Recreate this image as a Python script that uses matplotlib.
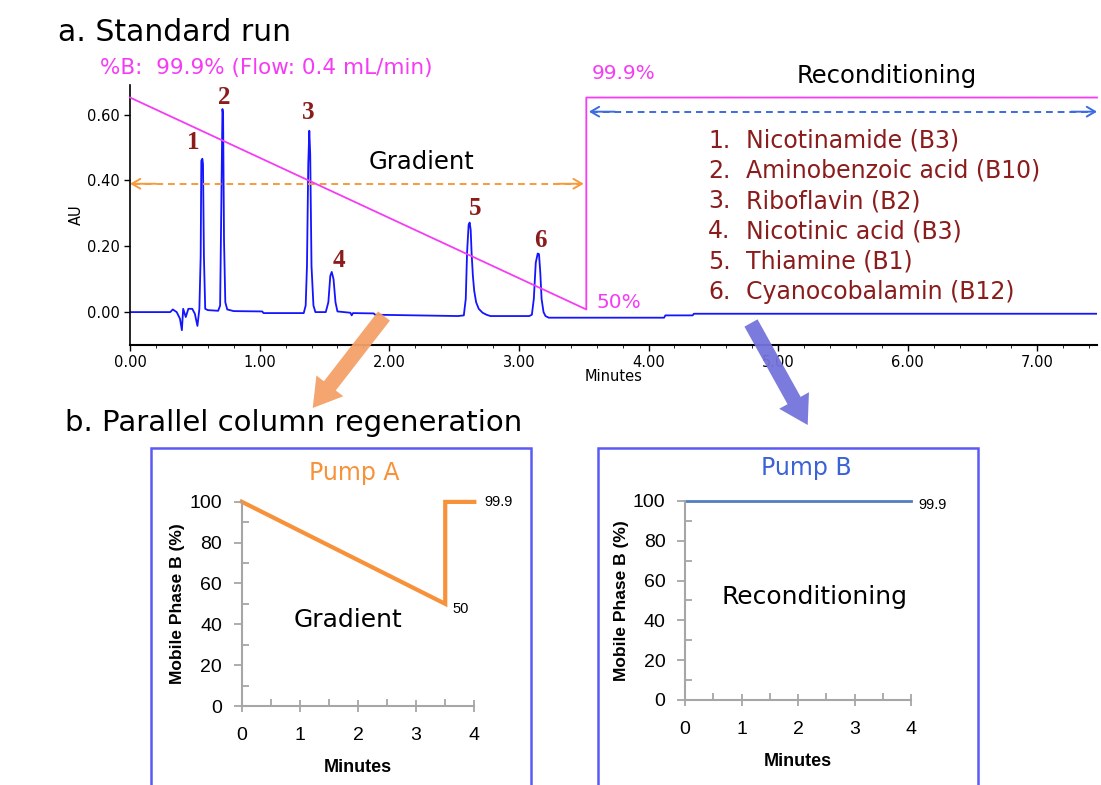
import matplotlib.pyplot as plt
import matplotlib.patches as mpatches
from matplotlib.ticker import MultipleLocator

# chromatogram trace (minutes, AU)
trace_t = [0.0, 0.31, 0.33, 0.36, 0.385, 0.40, 0.41, 0.43, 0.45, 0.48, 0.50, 0.52,
           0.535, 0.545, 0.55, 0.558, 0.563, 0.57, 0.58, 0.60, 0.68, 0.695, 0.705,
           0.713, 0.718, 0.725, 0.735, 0.75, 0.80, 1.02, 1.03, 1.34, 1.355, 1.365,
           1.375, 1.383, 1.39, 1.40, 1.415, 1.43, 1.51, 1.53, 1.545, 1.556, 1.57,
           1.585, 1.60, 1.70, 1.71, 1.72, 1.88, 1.89, 2.53, 2.575, 2.59, 2.60,
           2.612, 2.62, 2.628, 2.635, 2.645, 2.655, 2.67, 2.69, 2.72, 2.75, 2.78,
           3.08, 3.10, 3.115, 3.13, 3.145, 3.155, 3.165, 3.175, 3.19, 3.205, 3.23,
           4.12, 4.13, 4.34, 4.35, 7.46]
trace_au = [0.0, 0.0, 0.008, 0.0, -0.02, -0.055, 0.01, -0.015, 0.01, 0.01, -0.005, -0.042,
            0.01, 0.17, 0.46, 0.466, 0.45, 0.17, 0.01, 0.006, 0.004, 0.02, 0.35,
            0.617, 0.60, 0.22, 0.03, 0.008, 0.003, 0.002, -0.003, -0.003, 0.02, 0.14,
            0.45, 0.551, 0.48, 0.14, 0.02, 0.0, 0.0, 0.03, 0.11, 0.122, 0.10,
            0.03, 0.002, -0.002, -0.01, -0.003, -0.004, -0.008, -0.012, -0.01, 0.04, 0.18,
            0.265, 0.272, 0.25, 0.18, 0.11, 0.065, 0.03, 0.01, -0.002, -0.008, -0.012,
            -0.012, -0.008, 0.04, 0.15, 0.178, 0.176, 0.12, 0.04, 0.0, -0.012, -0.017,
            -0.017, -0.010, -0.010, -0.005, -0.005]

# %B program of the standard run
grad_t = [0.0, 3.52, 3.52, 7.46]
grad_b = [99.9, 50.0, 99.9, 99.9]

peak_nums = ['1', '2', '3', '4', '5', '6']
peak_t = [0.555, 0.713, 1.383, 1.556, 2.62, 3.15]
peak_h = [0.466, 0.617, 0.551, 0.122, 0.272, 0.178]
compounds = ['Nicotinamide (B3)', 'Aminobenzoic acid (B10)', 'Riboflavin (B2)',
             'Nicotinic acid (B3)', 'Thiamine (B1)', 'Cyanocobalamin (B12)']

# pump programs
pumpA_t = [0, 3.5, 3.5, 4]
pumpA_b = [100, 50, 99.9, 99.9]
pumpB_t = [0, 4]
pumpB_b = [99.9, 99.9]

MAG = '#f53cf5'
RED = '#8b1c1c'
NARROW = ['Liberation Sans Narrow', 'DejaVu Sans']

fig = plt.figure(figsize=(11.01, 7.85), dpi=100)

# ---------- a. standard run ----------
ax = fig.add_axes([0.1181, 0.5605, 0.8783, 0.3312])
ax.plot(trace_t, trace_au, color='#1414ff', lw=1.3)
ax.set_xlim(0, 7.46)
ax.set_ylim(-0.1, 0.69)
ax.set_xticks([0, 1, 2, 3, 4, 5, 6, 7])
ax.set_xticklabels(['%.2f' % v for v in range(8)])
ax.set_yticks([0, 0.2, 0.4, 0.6])
ax.set_yticklabels(['0.00', '0.20', '0.40', '0.60'])
ax.xaxis.set_minor_locator(MultipleLocator(0.2))
ax.tick_params(axis='both', labelsize=10.5, length=4, width=1)
ax.tick_params(axis='x', which='minor', length=2.5)
for lab in ax.get_xticklabels() + ax.get_yticklabels():
    lab.set_family(NARROW)
ax.set_xlabel('Minutes', fontsize=10.5, family=NARROW, labelpad=-1)
ax.set_ylabel('AU', fontsize=10.5, family=NARROW, labelpad=2)
for s in ['top', 'right']:
    ax.spines[s].set_visible(False)
ax.spines['left'].set_linewidth(1.2)
ax.spines['bottom'].set_linewidth(1.5)

# %B on hidden twin scale: 99.9 % at 0.652 AU, 50 % at 0.008 AU
ax2 = ax.twinx()
k = (99.9 - 50.0) / (0.652 - 0.008)
ax2.set_ylim(50 + (-0.1 - 0.008) * k, 50 + (0.69 - 0.008) * k)
ax2.plot(grad_t, grad_b, color=MAG, lw=1.3, clip_on=False)
ax2.axis('off')

# peak numbers
offs = [(-6.5, 11.5), (1.5, 8.6), (-0.7, 13), (5, 8.6), (3.6, 10), (1.4, 9.4)]
for n, t, h, o in zip(peak_nums, peak_t, peak_h, offs):
    ax.annotate(n, (t, h), xytext=o, textcoords='offset points', ha='center',
                va='center', fontsize=18, fontweight='bold', color=RED,
                family='Liberation Serif')

# dashed double arrows
ax.plot([0.02, 3.48], [0.39, 0.39], ls=(0, (3.5, 2.5)), color='#f79a3a', lw=1.4)
for x0, x1 in [(0.2, 0.0), (3.3, 3.5)]:
    ax.annotate('', xy=(x1, 0.39), xytext=(x0, 0.39),
                arrowprops=dict(arrowstyle='->,head_length=0.6,head_width=0.35',
                                color='#f79a3a', lw=1.4, shrinkA=0, shrinkB=0))
ax.plot([3.56, 7.42], [0.609, 0.609], ls=(0, (3.5, 2.5)), color='#3d6be0', lw=1.4,
        clip_on=False)
for x0, x1 in [(3.74, 3.54), (7.26, 7.46)]:
    ax.annotate('', xy=(x1, 0.609), xytext=(x0, 0.609),
                arrowprops=dict(arrowstyle='->,head_length=0.6,head_width=0.35',
                                color='#3d6be0', lw=1.4, shrinkA=0, shrinkB=0))

ax.text(2.25, 0.455, 'Gradient', fontsize=17.5, ha='center', va='center')
ax.text(5.84, 0.718, 'Reconditioning', fontsize=17.5, ha='center', va='center', clip_on=False)
ax.text(3.56, 0.724, '99.9%', fontsize=14.5, color=MAG, va='center', clip_on=False)
ax.text(-0.23, 0.742, '%B:  99.9% (Flow: 0.4 mL/min)', fontsize=15.5, color=MAG,
        va='center', clip_on=False)
ax.text(3.6, 0.03, '50%', fontsize=14.5, color=MAG, va='center')
for i, name in enumerate(compounds):
    yy = 0.521 - i * 0.092
    ax.text(4.46, yy, '%d.' % (i + 1), fontsize=17, color=RED, va='center')
    ax.text(4.75, yy, name, fontsize=17, color=RED, va='center')

fig.text(0.053, 0.958, 'a. Standard run', fontsize=21.5, va='center')
fig.text(0.059, 0.461, 'b. Parallel column regeneration', fontsize=21, va='center')

# ---------- b. pump panels ----------
for x0 in [0.1371, 0.5431]:
    fig.add_artist(mpatches.Rectangle((x0, -0.05), 0.3451, 0.4793, fill=False,
                                      edgecolor='#5a5af5', lw=1.8,
                                      transform=fig.transFigure))


def pump_axes(rect, t, b, color, lw, title, tcolor, tpos, label, lpos, ypad):
    a = fig.add_axes(rect)
    a.plot(t, b, color=color, lw=lw, clip_on=False, solid_joinstyle='miter')
    a.set_xlim(0, 4)
    a.set_ylim(0, 100)
    a.set_xticks([0, 1, 2, 3, 4])
    a.set_yticks([0, 20, 40, 60, 80, 100])
    a.xaxis.set_minor_locator(MultipleLocator(0.5))
    a.yaxis.set_minor_locator(MultipleLocator(10))
    for s in ['top', 'right']:
        a.spines[s].set_visible(False)
    for s in ['left', 'bottom']:
        a.spines[s].set_color('#a6a6a6')
        a.spines[s].set_linewidth(1.5)
    a.tick_params(axis='both', which='major', colors='#a6a6a6', labelcolor='black',
                  labelsize=14, width=1.3, length=6)
    a.tick_params(axis='y', which='major', direction='out', pad=ypad)
    a.tick_params(axis='x', which='major', direction='inout', length=8, pad=11)
    a.tick_params(axis='both', which='minor', direction='in', length=5,
                  colors='#a6a6a6', width=1.3)
    for lab in a.get_xticklabels() + a.get_yticklabels():
        lab.set_family('Liberation Sans')
    a.set_xlabel('Minutes', fontsize=13, fontweight='bold', family='Liberation Sans',
                 labelpad=11)
    a.set_ylabel('Mobile Phase B (%)', fontsize=12.5, fontweight='bold',
                 family='Liberation Sans', labelpad=3)
    a.text(tpos[0], tpos[1], title, color=tcolor, fontsize=17, ha='center',
           va='center', clip_on=False)
    a.text(lpos[0], lpos[1], label, fontsize=18, ha='center', va='center')
    return a


axA = pump_axes([0.2195, 0.1006, 0.2113, 0.2603], pumpA_t, pumpA_b, '#f7923a', 3,
                'Pump A', '#f7923a', (1.93, 114), 'Gradient', (1.82, 42), 8)
axA.annotate('%.1f' % pumpA_b[-1], (pumpA_t[-1], pumpA_b[-1]), xytext=(7, 0),
             textcoords='offset points', va='center', fontsize=10.5,
             family='Liberation Sans', annotation_clip=False)
axA.annotate('%d' % pumpA_b[1], (pumpA_t[1], pumpA_b[1]), xytext=(5, -4),
             textcoords='offset points', va='center', fontsize=10.5,
             family='Liberation Sans')

axB = pump_axes([0.6222, 0.1083, 0.2053, 0.2535], pumpB_t, pumpB_b, '#4f7fbf', 2,
                'Pump B', '#3b62d6', (2.15, 116.6), 'Reconditioning', (2.29, 51.8), 8)
axB.annotate('%.1f' % pumpB_b[-1], (pumpB_t[-1], pumpB_b[-1]), xytext=(5, -3),
             textcoords='offset points', va='center', fontsize=10.5,
             family='Liberation Sans', annotation_clip=False)

# big arrows linking part a to part b (inches, from figure bottom-left)
fig.add_artist(mpatches.FancyArrow(3.84, 4.69, -0.713, -0.92, width=0.15,
                                   head_width=0.34, head_length=0.28,
                                   length_includes_head=True, color='#f5a067',
                                   alpha=0.95, lw=0, transform=fig.dpi_scale_trans))
fig.add_artist(mpatches.FancyArrow(7.51, 4.62, 0.567, -1.02, width=0.15,
                                   head_width=0.34, head_length=0.28,
                                   length_includes_head=True, color='#7474dc',
                                   alpha=0.95, lw=0, transform=fig.dpi_scale_trans))

plt.savefig('out.png', dpi=100)
